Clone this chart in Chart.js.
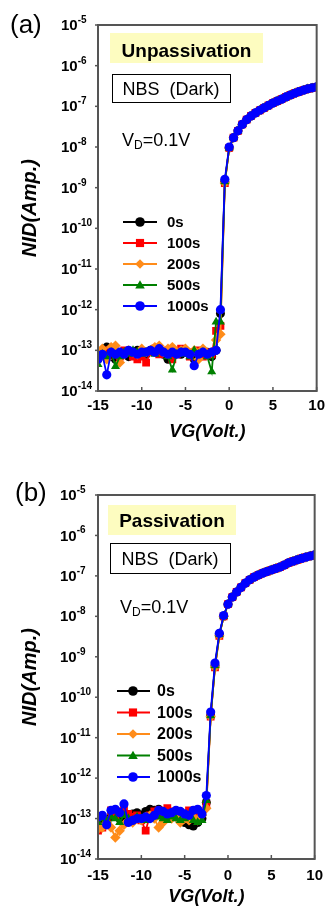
<!DOCTYPE html>
<html>
<head>
<meta charset="utf-8">
<script src="https://cdn.jsdelivr.net/npm/chart.js@4"></script>
<style>
  body { margin: 0; background: #fff; }
  canvas { display: block; }
</style>
</head>
<body>
<canvas id="chartA" width="331" height="455"></canvas>
<canvas id="chartB" width="331" height="453"></canvas>
<script>
// gate voltage (V) for every measured point
const vg = [-15, -14.5, -14, -13.5, -13, -12.5, -12, -11.5, -11, -10.5, -10, -9.5, -9, -8.5, -8, -7.5, -7, -6.5, -6, -5.5, -5, -4.5, -4, -3.5, -3, -2.5, -2, -1.5, -1, -0.5, 0, 0.5, 1, 1.5, 2, 2.5, 3, 3.5, 4, 4.5, 5, 5.5, 6, 6.5, 7, 7.5, 8, 8.5, 9, 9.5, 10];
const stressLabels = ["0s", "100s", "200s", "500s", "1000s"];
const yExps = [-14, -13, -12, -11, -10, -9, -8, -7, -6, -5];
const xTicks = [-15, -10, -5, 0, 5, 10];

// (a) Unpassivation, on-state part shared by all stress times (0.5 V .. 10 V)
const onA = [1.7e-8, 2.5e-8, 3.6e-8, 4.7e-8, 5.8e-8, 6.9e-8, 8e-8, 9.2e-8, 1.05e-7, 1.2e-7, 1.35e-7, 1.5e-7, 1.7e-7, 1.9e-7, 2.1e-7, 2.3e-7, 2.5e-7, 2.7e-7, 2.85e-7, 3.0e-7];
const a0s = [6e-14, 9e-14, 1.2e-13, 7e-14, 6e-14, 8e-14, 9e-14, 7e-14, 8e-14, 1e-13, 9e-14, 8e-14, 1e-13, 1.1e-13, 9e-14, 8e-14, 6e-14, 7e-14, 9e-14, 8e-14, 1e-13, 8e-14, 6e-14, 7e-14, 8e-14, 9e-14, 7e-14, 1e-13, 8e-13, 1.4e-9, 9.5e-9, ...onA];
const a100s = [7e-14, 8e-14, 1e-13, 9e-14, 8e-14, 7e-14, 1e-13, 9e-14, 7e-14, 6e-14, 7e-14, 5e-14, 9e-14, 1.1e-13, 8e-14, 9e-14, 1e-13, 6e-14, 8e-14, 1.1e-13, 9e-14, 7e-14, 9e-14, 1e-13, 7e-14, 9e-14, 8e-14, 3e-13, 4e-13, 1.3e-9, 9.5e-9, ...onA];
const a200s = [8e-14, 1.1e-13, 6e-14, 1.2e-13, 1.3e-13, 5e-14, 8e-14, 1e-13, 9e-14, 8e-14, 1.1e-13, 9e-14, 1e-13, 1.2e-13, 1.3e-13, 9e-14, 1.1e-13, 1.2e-13, 9e-14, 1e-13, 1.1e-13, 8e-14, 1e-13, 6e-14, 1.1e-13, 8e-14, 9e-14, 1.8e-13, 2.5e-13, 1.3e-9, 9.5e-9, ...onA];
const a500s = [4.5e-14, 8e-14, 7e-14, 9e-14, 4e-14, 7e-14, 9e-14, 8e-14, 1e-13, 9e-14, 8e-14, 9e-14, 1e-13, 8e-14, 1.1e-13, 9e-14, 7e-14, 3.3e-14, 8e-14, 9e-14, 8e-14, 7e-14, 1e-13, 8e-14, 9e-14, 7e-14, 3e-14, 5e-13, 5e-13, 1.4e-9, 9.5e-9, ...onA];
const a1000s = [6e-14, 8e-14, 2.5e-14, 9e-14, 8e-14, 9e-14, 8e-14, 1e-13, 9e-14, 8e-14, 9e-14, 9e-14, 1e-13, 9e-14, 1.1e-13, 9e-14, 8e-14, 9e-14, 8e-14, 9e-14, 9e-14, 8e-14, 4.2e-14, 8e-14, 9e-14, 8e-14, 9e-14, 1e-13, 1e-12, 1.6e-9, 1e-8, ...onA];

// (b) Passivation
const onB = [3e-8, 4e-8, 5.2e-8, 6.6e-8, 8e-8, 9.3e-8, 1.05e-7, 1.17e-7, 1.28e-7, 1.4e-7, 1.52e-7, 1.65e-7, 1.85e-7, 2.1e-7, 2.3e-7, 2.5e-7, 2.7e-7, 2.9e-7, 3.1e-7, 3.3e-7];
const b0s = [1e-13, 9e-14, 8e-14, 1.1e-13, 1.2e-13, 1e-13, 1.1e-13, 9e-14, 1.3e-13, 1.4e-13, 1.2e-13, 1.5e-13, 1.7e-13, 1.6e-13, 1.7e-13, 1.4e-13, 1.2e-13, 1.3e-13, 1.1e-13, 1e-13, 8e-14, 7e-14, 6.5e-14, 8e-14, 1e-13, 2.5e-13, 3.5e-11, 6e-10, 3.5e-9, 1e-8, 2e-8, ...onB];
const b100s = [5e-14, 6e-14, 9e-14, 1.6e-13, 1.2e-13, 1.5e-13, 1.8e-13, 1.3e-13, 1.1e-13, 1.2e-13, 9e-14, 5e-14, 1.2e-13, 1.5e-13, 1.6e-13, 1.4e-13, 1.8e-13, 1.5e-13, 1.3e-13, 1.4e-13, 1.2e-13, 1.6e-13, 1.4e-13, 1.1e-13, 1.5e-13, 2.2e-13, 3.3e-11, 5.5e-10, 3.3e-9, 1e-8, 2e-8, ...onB];
const b200s = [5.5e-14, 6e-14, 8e-14, 6e-14, 3.4e-14, 5e-14, 7e-14, 9e-14, 8e-14, 1e-13, 9e-14, 1.1e-13, 1.2e-13, 1e-13, 6e-14, 8e-14, 1.1e-13, 1e-13, 1.2e-13, 8e-14, 1e-13, 9e-14, 1.1e-13, 9e-14, 1.2e-13, 1.8e-13, 3.3e-11, 5.5e-10, 3.3e-9, 1e-8, 2e-8, ...onB];
const b500s = [8e-14, 1e-13, 9e-14, 1.1e-13, 1e-13, 8e-14, 1.2e-13, 1e-13, 9e-14, 1.1e-13, 1e-13, 9e-14, 1e-13, 1.2e-13, 1.1e-13, 1e-13, 9e-14, 1.1e-13, 1e-13, 9e-14, 1e-13, 1.1e-13, 9e-14, 8e-14, 9e-14, 2.8e-13, 3.5e-11, 6e-10, 3.5e-9, 1e-8, 2e-8, ...onB];
const b1000s = [1.1e-13, 1.2e-13, 7e-14, 1.6e-13, 1.7e-13, 1.4e-13, 2.3e-13, 8e-14, 9e-14, 1e-13, 1e-13, 1.1e-13, 1e-13, 1.2e-13, 1.6e-13, 1.5e-13, 1.3e-13, 1.4e-13, 1.6e-13, 1.5e-13, 1.3e-13, 1.2e-13, 1.6e-13, 1.7e-13, 1.3e-13, 3.7e-13, 4.3e-11, 7e-10, 3.8e-9, 1.05e-8, 2e-8, ...onB];

const colors = ["#000000", "#ff0000", "#ff8c1a", "#008000", "#0000ff"];
const markers = ["circle", "rect", "rectRot", "triangle", "circle"];
const markerSizes = [4.5, 5.5, 5.2, 5.2, 4.6];
const FONT = "'Liberation Sans', Arial, sans-serif";

function drawMarker(ctx, style, x, y, r, color) {
    ctx.fillStyle = color;
    ctx.beginPath();
    if (style === "circle") {
        ctx.arc(x, y, r, 0, Math.PI * 2);
    } else if (style === "rect") {
        ctx.rect(x - r * 0.85, y - r * 0.85, r * 1.7, r * 1.7);
    } else if (style === "rectRot") {
        ctx.moveTo(x, y - r); ctx.lineTo(x + r, y); ctx.lineTo(x, y + r); ctx.lineTo(x - r, y);
        ctx.closePath();
    } else {
        ctx.moveTo(x, y - r); ctx.lineTo(x + r, y + r * 0.75); ctx.lineTo(x - r, y + r * 0.75);
        ctx.closePath();
    }
    ctx.fill();
}

const decor = {
    id: "decor",
    afterDraw(chart, args, o) {
        const { ctx, chartArea: ca } = chart;
        const x = chart.scales.x, y = chart.scales.y;
        ctx.save();

        // frame
        ctx.strokeStyle = "#555";
        ctx.lineWidth = 2;
        ctx.strokeRect(ca.left, ca.top, ca.right - ca.left, ca.bottom - ca.top);

        // x ticks (inward)
        ctx.lineWidth = 1.5;
        x.ticks.forEach(t => {
            const px = x.getPixelForValue(t.value);
            ctx.beginPath(); ctx.moveTo(px, ca.bottom); ctx.lineTo(px, ca.bottom - 4); ctx.stroke();
        });

        // y ticks with 10^n labels
        ctx.fillStyle = "#000";
        y.ticks.forEach(t => {
            const py = y.getPixelForValue(t.value);
            ctx.beginPath(); ctx.moveTo(ca.left, py); ctx.lineTo(ca.left - 3, py); ctx.stroke();
            const exp = Math.round(Math.log10(t.value));
            ctx.font = "bold 15px " + FONT;
            ctx.textAlign = "left";
            ctx.textBaseline = "middle";
            ctx.fillText("10", o.yLabelX, py + 1);
            const w = ctx.measureText("10").width;
            ctx.font = "bold 10px " + FONT;
            ctx.textBaseline = "alphabetic";
            ctx.fillText(String(exp), o.yLabelX + w, py - 2);
        });

        // panel label
        ctx.font = "26px " + FONT;
        ctx.textAlign = "left";
        ctx.textBaseline = "middle";
        ctx.fillText(o.panel, o.panelX, o.panelY);

        // highlighted tag
        const tb = o.tagBox;
        ctx.fillStyle = "#fdfcc0";
        ctx.fillRect(tb[0], tb[1], tb[2], tb[3]);
        ctx.fillStyle = "#000";
        ctx.font = "bold 19px " + FONT;
        ctx.textAlign = "center";
        ctx.textBaseline = "alphabetic";
        ctx.fillText(o.tag, tb[0] + tb[2] / 2, o.tagY);

        // NBS box
        const nb = o.nbsBox;
        ctx.strokeStyle = "#000";
        ctx.lineWidth = 1;
        ctx.strokeRect(nb[0] + 0.5, nb[1] + 0.5, nb[2], nb[3]);
        ctx.font = "18px " + FONT;
        ctx.fillText("NBS  (Dark)", nb[0] + nb[2] / 2, o.nbsY);

        // V_D label
        ctx.textAlign = "left";
        ctx.font = "18px " + FONT;
        ctx.fillText("V", o.vdX, o.vdY);
        let cx = o.vdX + ctx.measureText("V").width;
        ctx.font = "12px " + FONT;
        ctx.fillText("D", cx, o.vdY + 3);
        cx += ctx.measureText("D").width;
        ctx.font = "18px " + FONT;
        ctx.fillText("=0.1V", cx, o.vdY);

        // legend
        const L = o.legend;
        chart.data.datasets.forEach((ds, i) => {
            const ly = L.y0 + i * L.dy;
            ctx.strokeStyle = ds.borderColor;
            ctx.lineWidth = 2;
            ctx.beginPath(); ctx.moveTo(L.x0, ly); ctx.lineTo(L.x1, ly); ctx.stroke();
            drawMarker(ctx, ds.pointStyle, L.mx, ly, 4.8, ds.borderColor);
            ctx.fillStyle = "#000";
            ctx.font = "bold " + L.font + "px " + FONT;
            ctx.textBaseline = "middle";
            ctx.fillText(ds.label, L.tx, ly + 1);
        });
        ctx.restore();
    }
};

function makeDatasets(series) {
    return series.map((vals, i) => ({
        label: stressLabels[i],
        data: vals.map((v, k) => ({ x: vg[k], y: v })),
        borderColor: colors[i],
        backgroundColor: colors[i],
        pointStyle: markers[i],
        pointRadius: markerSizes[i],
        pointBorderWidth: 0,
        borderWidth: 1.8,
        order: 4 - i
    }));
}

function makeChart(id, series, layout, deco) {
    return new Chart(document.getElementById(id), {
        type: "line",
        data: { datasets: makeDatasets(series) },
        options: {
            responsive: false,
            animation: false,
            devicePixelRatio: 1,
            layout: { padding: { top: layout.top, right: layout.right, left: 0, bottom: 0 } },
            scales: {
                x: {
                    type: "linear",
                    min: -15,
                    max: 10,
                    afterBuildTicks: s => { s.ticks = xTicks.map(v => ({ value: v })); },
                    afterFit: s => { s.height = layout.xHeight; },
                    grid: { display: false, drawTicks: false },
                    border: { display: false },
                    ticks: {
                        color: "#000",
                        padding: layout.xTickPad,
                        maxRotation: 0,
                        font: { family: FONT, size: 15, weight: "bold" }
                    },
                    title: {
                        display: true,
                        text: "VG(Volt.)",
                        color: "#000",
                        padding: { top: 0, bottom: layout.xTitlePad },
                        font: { family: FONT, size: 18, weight: "bold", style: "italic" }
                    }
                },
                y: {
                    type: "logarithmic",
                    min: 1e-14,
                    max: 1e-5,
                    afterBuildTicks: s => { s.ticks = yExps.map(e => ({ value: Math.pow(10, e) })); },
                    afterFit: s => { s.width = 98; },
                    grid: { display: false, drawTicks: false },
                    border: { display: false },
                    ticks: { display: false },
                    title: {
                        display: true,
                        text: "NID(Amp.)",
                        color: "#000",
                        padding: { top: 18, bottom: 0 },
                        font: { family: FONT, size: 20, weight: "bold", style: "italic" }
                    }
                }
            },
            plugins: {
                legend: { display: false },
                tooltip: { enabled: false },
                decor: deco
            }
        },
        plugins: [decor]
    });
}

makeChart("chartA", [a0s, a100s, a200s, a500s, a1000s],
    { top: 25, right: 11, xHeight: 64, xTickPad: 6, xTitlePad: 12 },
    {
        yLabelX: 61, panel: "(a)", panelX: 10, panelY: 26,
        tag: "Unpassivation", tagBox: [110, 33, 153, 30], tagY: 57,
        nbsBox: [112, 74, 118, 28], nbsY: 95,
        vdX: 122, vdY: 146,
        legend: { x0: 123, x1: 157, mx: 140, tx: 167, y0: 222, dy: 21, font: 15 }
    });

makeChart("chartB", [b0s, b100s, b200s, b500s, b1000s],
    { top: 40, right: 9, xHeight: 49, xTickPad: 8, xTitlePad: 0 },
    {
        yLabelX: 60, panel: "(b)", panelX: 15, panelY: 39,
        tag: "Passivation", tagBox: [108, 50, 128, 30], tagY: 72,
        nbsBox: [110, 88, 120, 30], nbsY: 110,
        vdX: 120, vdY: 158,
        legend: { x0: 117, x1: 150, mx: 133, tx: 157, y0: 236, dy: 21.5, font: 16 }
    });
</script>
</body>
</html>
